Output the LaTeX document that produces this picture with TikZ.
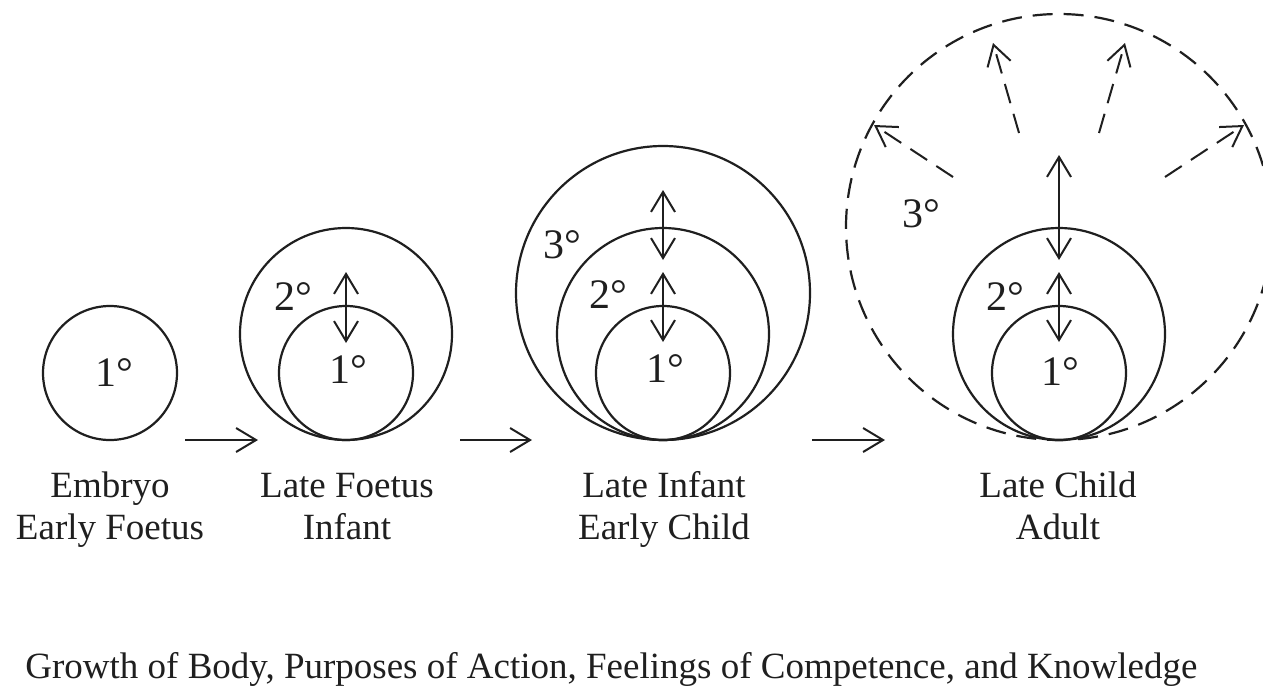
\documentclass[tikz,border=0pt]{standalone}
\usepackage{fontspec}
\setmainfont{Liberation Serif}
\usetikzlibrary{arrows.meta}
\definecolor{ink}{gray}{0.12}
\begin{document}
\begin{tikzpicture}[x=0.5pt,y=-0.5pt,
  >={Straight Barb[length=10pt,width=12pt]},
  ring/.style={circle, draw=ink, line width=1.1pt, inner sep=0pt, outer sep=0pt},
  dashring/.style={ring, dash pattern=on 10pt off 5.5pt},
  deg/.style={font=\fontsize{21}{24}\selectfont, text=ink, inner sep=0pt},
  stagecap/.style={font=\fontsize{18.5}{22}\selectfont, text=ink, anchor=base, inner sep=0pt},
  link/.style={draw=ink, line width=1pt, ->},
  twoway/.style={draw=ink, line width=1pt, <->},
  spread/.style={link, dash pattern=on 10pt off 5.5pt}]

\fill[white] (0,0) rectangle (1263,691);
\useasboundingbox (0,0) rectangle (1263,691);

% Stage 1: a single primary circle
\node[ring, minimum size=67pt] (s1a) at (110,373) {};
\node[deg] (d1a) at (114,373) {1°};

% Stage 2: primary inside secondary
\node[ring, minimum size=106pt] (s2b) at (346,334) {};
\node[ring, minimum size=67pt]  (s2a) at (346,373) {};
\node[deg] (d2a) at (348,370) {1°};
\node[deg] (d2b) at (293,297) {2°};
\coordinate (u2t) at (346,272);
\coordinate (u2b) at (346,343);
\draw[twoway] (u2t) -- (u2b);

% Stage 3: three nested circles
\node[ring, minimum size=147pt] (s3c) at (663,293) {};
\node[ring, minimum size=106pt] (s3b) at (663,334) {};
\node[ring, minimum size=67pt]  (s3a) at (663,373) {};
\node[deg] (d3a) at (665,369) {1°};
\node[deg] (d3b) at (608,295) {2°};
\node[deg] (d3c) at (562,245) {3°};
\coordinate (u3t) at (663,190);
\coordinate (u3m) at (663,260);
\coordinate (v3t) at (663,272);
\coordinate (v3b) at (663,342);
\draw[twoway] (u3t) -- (u3m);
\draw[twoway] (v3t) -- (v3b);

% Stage 4: open-ended tertiary circle
\node[dashring, minimum size=213pt] (s4c) at (1059,227) {};
\node[ring, minimum size=106pt] (s4b) at (1059,334) {};
\node[ring, minimum size=67pt]  (s4a) at (1059,373) {};
\node[deg] (d4a) at (1060,372) {1°};
\node[deg] (d4b) at (1005,297) {2°};
\node[deg] (d4c) at (921,214) {3°};
\coordinate (u4t) at (1059,155);
\coordinate (u4m) at (1059,260);
\coordinate (v4t) at (1059,272);
\coordinate (v4b) at (1059,342);
\draw[twoway] (u4t) -- (u4m);
\draw[twoway] (v4t) -- (v4b);

% outward growth of the tertiary region
\coordinate (r1a) at (953,177);  \coordinate (r1b) at (874,125);
\coordinate (r2a) at (1019,133); \coordinate (r2b) at (993,43);
\coordinate (r3a) at (1099,133); \coordinate (r3b) at (1125,43);
\coordinate (r4a) at (1165,177); \coordinate (r4b) at (1244,125);
\draw[spread] (r1a) -- (r1b);
\draw[spread] (r2a) -- (r2b);
\draw[spread] (r3a) -- (r3b);
\draw[spread] (r4a) -- (r4b);

% arrows between stages
\coordinate (h1a) at (185,440); \coordinate (h1b) at (258,440);
\coordinate (h2a) at (460,440); \coordinate (h2b) at (532,440);
\coordinate (h3a) at (812,440); \coordinate (h3b) at (885,440);
\draw[link] (h1a) -- (h1b);
\draw[link] (h2a) -- (h2b);
\draw[link] (h3a) -- (h3b);

% stage captions
\node[stagecap] (c1a) at (110,497) {Embryo};
\node[stagecap] (c1b) at (110,539) {Early Foetus};
\node[stagecap] (c2a) at (347,497) {Late Foetus};
\node[stagecap] (c2b) at (347,539) {Infant};
\node[stagecap] (c3a) at (664,497) {Late Infant};
\node[stagecap] (c3b) at (664,539) {Early Child};
\node[stagecap] (c4a) at (1058,497) {Late Child};
\node[stagecap] (c4b) at (1058,539) {Adult};

% overall caption
\node[stagecap, anchor=base west] (title) at (25,678)
  {Growth of Body, Purposes of Action, Feelings of Competence, and Knowledge};
\end{tikzpicture}
\end{document}
